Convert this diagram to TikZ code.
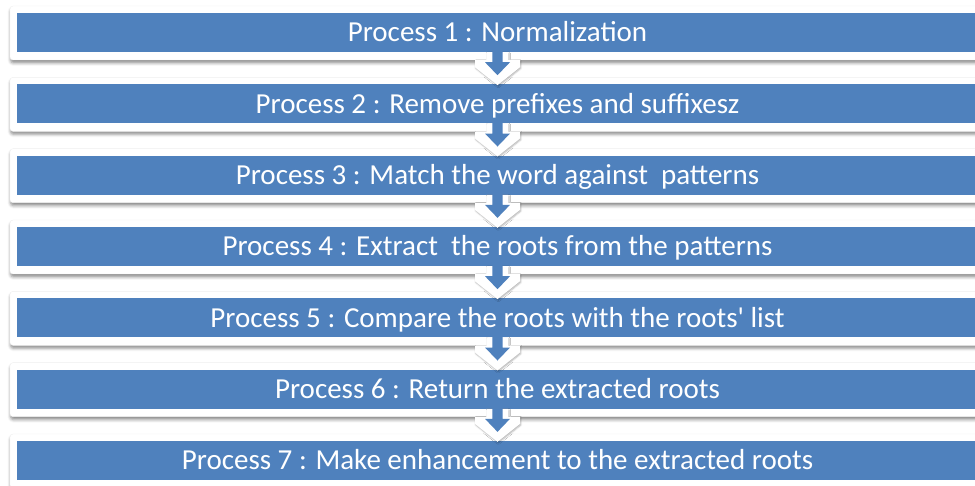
\documentclass[tikz,border=0pt]{standalone}
\usepackage{fontspec}
\setmainfont{Carlito}
\usetikzlibrary{shadows.blur}
\definecolor{barblue}{RGB}{79,129,189}
\tikzset{
    frame/.style={fill=white, draw=black!6, rounded corners=3pt,
        blur shadow={shadow xshift=0.5pt, shadow yshift=-3pt,
            shadow blur radius=3pt, shadow opacity=45}},
    bar/.style={fill=barblue, text=white, minimum width=961pt,
        minimum height=39pt, inner sep=0pt, text height=18.5pt,
        text depth=0pt, font=\fontsize{29}{34}\selectfont},
    arrowrim/.style={fill=white,
        blur shadow={shadow xshift=0.8pt, shadow yshift=-1.2pt,
            shadow blur radius=1.5pt, shadow opacity=30}},
}
\begin{document}
\begin{tikzpicture}[x=1pt, y=-1pt]
        \useasboundingbox (0,0) rectangle (975,486);
        \clip (0,0) rectangle (975,486);

        % Process bars
        \foreach \i/\txt in {1/Process 1 : Normalization,
                2/Process 2 : Remove prefixes and suffixesz,
                3/Process 3 : Match the word against\ \ patterns,
                4/Process 4 : Extract\ \ the roots from the patterns,
                5/Process 5 : Compare the roots with the roots\textquotesingle{} list,
                6/Process 6 : Return the extracted roots,
                7/Process 7 : Make enhancement to the extracted roots} {
            \pgfmathsetmacro{\yc}{32.5+71.33*(\i-1)}
            \path[frame] (10,\yc-26.5) rectangle (985,\yc+27.5);
            \node[bar] (bar\i) at (497.5,\yc) {\txt};
        }

        % Down arrows between the bars
        \foreach \i [evaluate=\i as \j using int(\i+1)] in {1,...,6} {
            \begin{scope}[shift={(bar\i.south)}]
                \path[arrowrim] (-10.8,0) -- (-10.8,8) -- (-22.5,8) -- (-22.5,15)
                    -- ([yshift=-1pt]bar\j.north) -- (22.5,15) -- (22.5,8)
                    -- (10.8,8) -- (10.8,0) -- cycle;
                \fill[barblue] (-5.2,-2) -- (-5.2,10) -- (-12.5,10) -- (0,23)
                    -- (12.5,10) -- (5.2,10) -- (5.2,-2) -- cycle;
            \end{scope}
        }
    \end{tikzpicture}
\end{document}
